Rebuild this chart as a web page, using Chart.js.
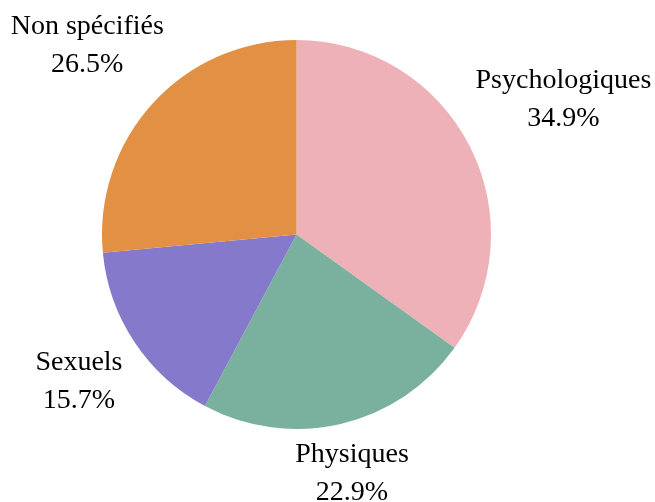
<!DOCTYPE html>
<html lang="fr">
<head>
  <meta charset="UTF-8" />
  <title>Répartition</title>
  <style>
    html, body { margin: 0; padding: 0; background: #fff; }
    #wrap { width: 655px; height: 502px; position: relative; }
  </style>
</head>
<body>
  <div id="wrap"><canvas id="camembert"></canvas></div>

  <script src="https://cdn.jsdelivr.net/npm/chart.js"></script>
  <script>
    const categories = ["Psychologiques", "Physiques", "Sexuels", "Non spécifiés"];
    const pourcentages = [34.9, 22.9, 15.7, 26.5];
    const couleurs = ["#eeb1b8", "#7ab09e", "#8479cb", "#e29043"];

    // étiquettes "nom + pourcentage" poussées hors du camembert
    // jusqu'à ce que leur boîte soit à ~1.077 rayon du centre
    const etiquettes = {
      id: "etiquettes",
      afterDatasetsDraw(chart) {
        const ctx = chart.ctx;
        const meta = chart.getDatasetMeta(0);
        ctx.save();
        ctx.font = "28px 'Liberation Serif', 'Times New Roman', serif";
        ctx.fillStyle = "#000";
        ctx.textAlign = "center";
        ctx.textBaseline = "alphabetic";
        const interligne = 38, capH = 18.5;
        meta.data.forEach((arc, i) => {
          const p = arc.getProps(["x", "y", "startAngle", "endAngle", "outerRadius"], true);
          const mid = (p.startAngle + p.endAngle) / 2;
          const dx = Math.cos(mid), dy = Math.sin(mid);
          const lignes = [categories[i], pourcentages[i].toFixed(1) + "%"];
          const w = Math.max(...lignes.map(l => ctx.measureText(l).width));
          const h = capH + interligne;
          const D = p.outerRadius * 1.077;
          const dist = t => {
            const nx = Math.max(Math.abs(dx * t) - w / 2, 0);
            const ny = Math.max(Math.abs(dy * t) - h / 2, 0);
            return Math.hypot(nx, ny);
          };
          let lo = 0, hi = p.outerRadius * 3;
          for (let k = 0; k < 40; k++) {
            const m = (lo + hi) / 2;
            if (dist(m) < D) lo = m; else hi = m;
          }
          const cx = p.x + dx * lo;
          const cy = p.y + dy * lo;
          const haut = cy - h / 2;
          lignes.forEach((l, j) => ctx.fillText(l, cx, haut + capH + j * interligne));
        });
        ctx.restore();
      }
    };

    new Chart(document.getElementById("camembert"), {
      type: "pie",
      data: {
        labels: categories,
        datasets: [{
          data: pourcentages,
          backgroundColor: couleurs,
          borderWidth: 0
        }]
      },
      options: {
        responsive: true,
        maintainAspectRatio: false,
        animation: false,
        layout: { padding: { top: 40, bottom: 73, left: 102, right: 164 } },
        plugins: {
          legend: { display: false },
          tooltip: { enabled: false }
        }
      },
      plugins: [etiquettes]
    });
  </script>
</body>
</html>
